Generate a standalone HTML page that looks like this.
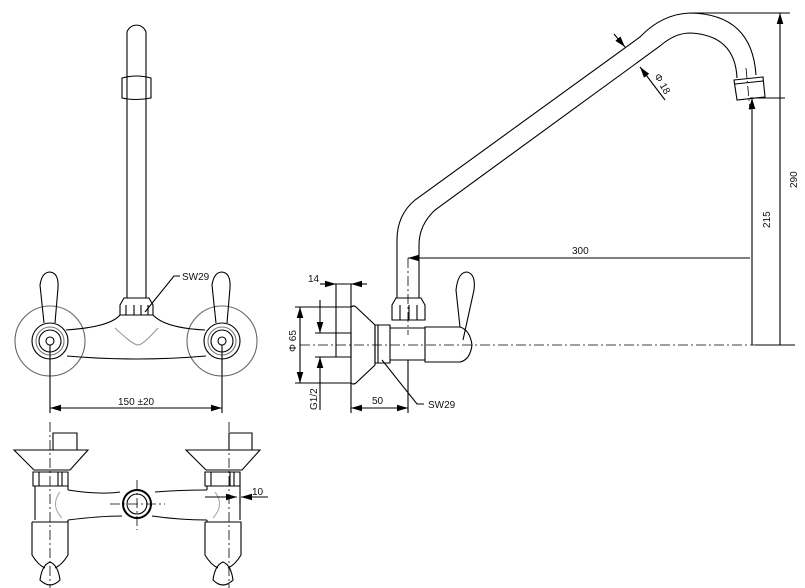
<!DOCTYPE html>
<html><head><meta charset="utf-8"><style>
html,body{margin:0;padding:0;background:#fff;}
svg{display:block;}
text{font-family:"Liberation Sans",sans-serif;font-size:10px;fill:#111;}
</style></head><body>
<svg width="805" height="588" viewBox="0 0 805 588" xmlns="http://www.w3.org/2000/svg">
<defs>
<marker id="a" viewBox="0 0 10 6" refX="10" refY="3" markerWidth="10" markerHeight="6" orient="auto-start-reverse"><path d="M0,0 L10,3 L0,6z" fill="#000"/></marker>
</defs>
<g fill="none" stroke="#000" stroke-width="1.1">
<!-- LEFT FRONT VIEW -->
<path d="M127,100 V32 A10,10 0 0 1 146,32 V100"/>
<path d="M122,78 Q136,74 151,78 V98 Q136,101 122,98 Z"/>
<path d="M127,100 V298 M146,100 V298"/>
<path d="M120,305 L124,298 H149 L153,305 V315 H120 Z"/>
<path d="M126,315 V305 M134,315 V305 M141,315 V305 M148,315 V305"/>
<circle cx="50" cy="341" r="35" stroke="#666"/>
<circle cx="222" cy="341" r="35" stroke="#666"/>
<circle cx="50" cy="341" r="18"/><circle cx="50" cy="341" r="14" stroke="#777"/><circle cx="50" cy="341" r="11"/><circle cx="50" cy="341" r="4"/>
<circle cx="222" cy="341" r="18"/><circle cx="222" cy="341" r="14" stroke="#777"/><circle cx="222" cy="341" r="11"/><circle cx="222" cy="341" r="4"/>
<path d="M44,323 L40,285 Q42,272 50,272 Q59,273 58,288 L55,323"/>
<path d="M216,323 L212,285 Q214,272 222,272 Q231,273 230,288 L227,323"/>
<path d="M66,330 Q110,327 120,315 M153,315 Q165,328 205,330"/>
<path d="M67,356 Q136,362 206,356"/>
<path d="M115,328 Q133,345 138,345 Q143,345 158,328" stroke="#999"/>
<path d="M50,345 V413 M222,345 V413"/>
<line x1="50" y1="408" x2="222" y2="408" marker-start="url(#a)" marker-end="url(#a)"/>
<path d="M145,312 L174,276 H180"/>
<!-- BOTTOM VIEW -->
<path d="M53,450 V433 H77 V450 M229,450 V433 H252 V450"/>
<path d="M14,450 H88 L70,470 H34 Z"/>
<path d="M186,450 H260 L242,470 H206 Z"/>
<path d="M33,472 H68 V486 H33 Z M39,472 V486 M58,472 V486 M62,472 V486"/>
<path d="M205,472 H240 V486 H205 Z M211,472 V486 M230,472 V486 M234,472 V486"/>
<path d="M35,486 V520 M68,486 V490 M68,520 V522 M207,486 V490 M207,520 V522 M240,486 V520"/>
<path d="M68,490 Q100,495 120,492 M155,492 Q180,490 207,490"/>
<path d="M68,520 Q100,516 122,516 M152,516 Q180,520 207,520"/>
<path d="M60,492 Q50,505 62,518 M215,492 Q225,505 213,518" stroke="#aaa"/>
<circle cx="137" cy="504" r="14" stroke-width="2"/><circle cx="137" cy="504" r="10"/>
<path d="M32,522 H68 V555 Q62,565 55,568 M32,522 V555 Q38,565 45,568"/>
<path d="M40,580 Q42,565 50,562 Q58,565 60,580 Q50,590 40,580Z"/>
<path d="M205,522 H241 V555 Q235,565 228,568 M205,522 V555 Q211,565 218,568"/>
<path d="M213,580 Q215,565 223,562 Q231,565 233,580 Q223,590 213,580Z"/>
<path d="M240,498 V505" />
<line x1="205" y1="497" x2="237" y2="497" marker-end="url(#a)"/>
<line x1="268" y1="497" x2="241" y2="497" marker-end="url(#a)"/>
</g>
<g fill="none" stroke="#000" stroke-width="0.8" stroke-dasharray="10,3,2,3">
<path d="M50,422 V588 M229,422 V588 M137,480 V530 M110,504 H165"/>
<path d="M408,258 V335 M300,345 H795 M746,68 L750,110"/>
</g>
<g fill="none" stroke="#000" stroke-width="1.1">
<!-- SIDE VIEW -->
<path d="M397,298 V240 Q397,215 415,200 L640,37 Q662,14 690,13 Q752,14 756,75"/>
<path d="M419,298 V245 Q419,225 435,210 L660,46 Q675,33 690,33 Q735,35 737,78"/>
<path d="M734,80 L763,77 L765,97 L737,100 Z M735,84 L763,81"/>
<path d="M392,305 L396,298 H421 L425,305 V320 H392 Z M400,320 V305 M409,320 V305 M417,320 V305"/>
<path d="M351,307 Q354,305 356,307 L375,325 V365 L356,383 Q353,385 351,383 Z"/>
<path d="M336,333 H351 V357 H336 Z"/>
<path d="M375,325 H390 V363 H375 Z M378,325 V363"/>
<path d="M390,328 H425 V360 H390 M425,327 H460 Q470,330 472,345 Q470,360 460,362 H425 Z"/>
<path d="M460,327 L456,290 Q458,272 467,272 Q476,274 474,290 L463,340"/>
<path d="M357,284 H336 M336,284 V333 M351,284 V307"/>
<line x1="320" y1="284" x2="336" y2="284" marker-end="url(#a)"/>
<line x1="367" y1="284" x2="351" y2="284" marker-end="url(#a)"/>
<path d="M295,307 H351 M295,383 H351"/>
<line x1="300" y1="345" x2="300" y2="307" marker-end="url(#a)"/>
<line x1="300" y1="345" x2="300" y2="383" marker-end="url(#a)"/>
<path d="M315,333 H336 M315,357 H336"/>
<line x1="320" y1="300" x2="320" y2="333" marker-end="url(#a)"/>
<line x1="320" y1="410" x2="320" y2="357" marker-end="url(#a)"/>
<path d="M351,383 V413 M408,360 V413"/>
<line x1="351" y1="408" x2="408" y2="408" marker-start="url(#a)" marker-end="url(#a)"/>
<path d="M382,360 L417,404 H424"/>
<line x1="750" y1="258" x2="408" y2="258" marker-end="url(#a)"/>
<path d="M750,98 H785 M690,13 H790 M755,345 H795"/>
<line x1="752" y1="345" x2="752" y2="98" marker-end="url(#a)"/>
<line x1="780" y1="345" x2="780" y2="13" marker-end="url(#a)"/>
<line x1="614" y1="34" x2="625" y2="47" marker-end="url(#a)"/>
<line x1="665" y1="100" x2="640" y2="67" marker-end="url(#a)"/>
</g>
<text x="182" y="280">SW29</text>
<text x="118" y="405">150 ±20</text>
<text x="252" y="495">10</text>
<text x="308" y="282">14</text>
<text transform="translate(296,352) rotate(-90)">Φ 65</text>
<text transform="translate(317,410) rotate(-90)">G1/2</text>
<text x="372" y="404">50</text>
<text x="428" y="408">SW29</text>
<text x="572" y="254">300</text>
<text transform="translate(770,228) rotate(-90)">215</text>
<text transform="translate(797,188) rotate(-90)">290</text>
<text transform="translate(654,76) rotate(60)" fill="#c07000">Φ 18</text>
</svg>
</body></html>
